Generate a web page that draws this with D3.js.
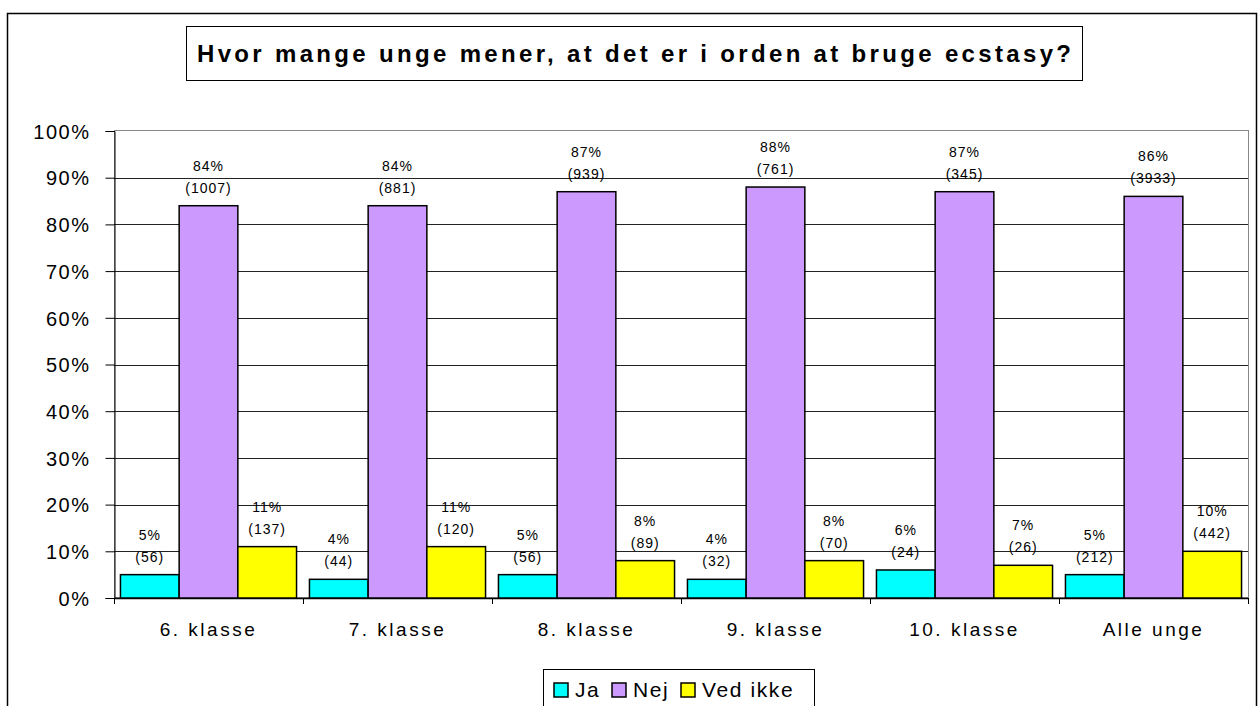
<!DOCTYPE html>
<html>
<head>
<meta charset="utf-8">
<script src="https://cdn.jsdelivr.net/npm/d3@7"></script>
<style>
  body { margin: 0; background: #fff; }
  svg { display: block; font-family: "Liberation Sans", Arial, sans-serif; }
</style>
</head>
<body>
<div id="chart"></div>
<script>
const categories = ["6. klasse", "7. klasse", "8. klasse", "9. klasse", "10. klasse", "Alle unge"];
const seriesNames = ["Ja", "Nej", "Ved ikke"];
const jaPct = [5, 4, 5, 4, 6, 5];
const jaCount = [56, 44, 56, 32, 24, 212];
const nejPct = [84, 84, 87, 88, 87, 86];
const nejCount = [1007, 881, 939, 761, 345, 3933];
const vedIkkePct = [11, 11, 8, 8, 7, 10];
const vedIkkeCount = [137, 120, 89, 70, 26, 442];
const yTicks = [0, 10, 20, 30, 40, 50, 60, 70, 80, 90, 100];
const colors = ["#00ffff", "#cc99ff", "#ffff00"];

const width = 1258, height = 706;
const plotLeft = 114, plotRight = 1248, plotTop = 131, plotBottom = 598;

const svg = d3.select("#chart").append("svg")
  .attr("width", width)
  .attr("height", height);

// outer frame
svg.append("rect")
  .attr("x", 7.5).attr("y", 13.5)
  .attr("width", 1249).attr("height", 760)
  .attr("fill", "none").attr("stroke", "#000").attr("stroke-width", 1.5);

// title box
svg.append("rect")
  .attr("x", 186.5).attr("y", 26.5)
  .attr("width", 896).attr("height", 54)
  .attr("fill", "#fff").attr("stroke", "#000").attr("stroke-width", 1);
svg.append("text")
  .attr("x", 634).attr("y", 62)
  .attr("text-anchor", "middle")
  .attr("font-size", "24px").attr("font-weight", "bold")
  .attr("textLength", 874).attr("lengthAdjust", "spacing")
  .text("Hvor mange unge mener, at det er i orden at bruge ecstasy?");

const y = d3.scaleLinear().domain([0, 100]).range([plotBottom, plotTop]);
const x0 = d3.scaleBand().domain(categories).range([plotLeft, plotRight]);
const x1 = d3.scaleBand().domain(seriesNames).range([0, x0.bandwidth()]).paddingOuter(0.11);

// plot area border
svg.append("rect")
  .attr("x", plotLeft + 0.5).attr("y", plotTop - 0.5)
  .attr("width", plotRight - plotLeft).attr("height", plotBottom - plotTop)
  .attr("fill", "none").attr("stroke", "#888").attr("stroke-width", 1);

// gridlines
svg.append("g").selectAll("line")
  .data(yTicks.filter(d => d > 0 && d < 100))
  .join("line")
  .attr("x1", plotLeft).attr("x2", plotRight)
  .attr("y1", d => Math.round(y(d)) + 0.5).attr("y2", d => Math.round(y(d)) + 0.5)
  .attr("stroke", "#222").attr("stroke-width", 1);

// y axis
const yAxis = svg.append("g")
  .attr("transform", `translate(${plotLeft + 0.5},0)`)
  .call(d3.axisLeft(y).tickValues(yTicks).tickFormat(d => d + "%").tickSize(9).tickPadding(15));
yAxis.select(".domain").attr("stroke", "#000");
yAxis.selectAll(".tick line").attr("stroke", "#000");
yAxis.selectAll(".tick text")
  .attr("font-size", "20px").attr("font-family", "Liberation Sans, Arial, sans-serif")
  .attr("fill", "#000").attr("letter-spacing", "1.5px").attr("dy", "0.36em");

// x axis line and ticks at group boundaries
svg.append("line")
  .attr("x1", plotLeft).attr("x2", plotRight)
  .attr("y1", plotBottom + 0.5).attr("y2", plotBottom + 0.5)
  .attr("stroke", "#000").attr("stroke-width", 1.5);
const bounds = categories.map(c => x0(c)).concat([plotRight]);
svg.append("g").selectAll("line")
  .data(bounds)
  .join("line")
  .attr("x1", d => Math.round(d) + 0.5).attr("x2", d => Math.round(d) + 0.5)
  .attr("y1", plotBottom).attr("y2", plotBottom + 6)
  .attr("stroke", "#000");

svg.append("g").selectAll("text")
  .data(categories)
  .join("text")
  .attr("x", d => x0(d) + x0.bandwidth() / 2)
  .attr("y", 636)
  .attr("text-anchor", "middle")
  .attr("font-size", "19px").attr("letter-spacing", "2.5px")
  .text(d => d);

// bars
const rows = categories.map((c, i) => ({
  cat: c,
  vals: [
    { s: "Ja", p: jaPct[i], n: jaCount[i] },
    { s: "Nej", p: nejPct[i], n: nejCount[i] },
    { s: "Ved ikke", p: vedIkkePct[i], n: vedIkkeCount[i] }
  ]
}));
const color = d3.scaleOrdinal().domain(seriesNames).range(colors);

const groups = svg.append("g").selectAll("g")
  .data(rows)
  .join("g")
  .attr("transform", d => `translate(${x0(d.cat)},0)`);

groups.selectAll("rect")
  .data(d => d.vals)
  .join("rect")
  .attr("x", d => x1(d.s))
  .attr("y", d => y(d.p))
  .attr("width", x1.bandwidth())
  .attr("height", d => plotBottom - y(d.p))
  .attr("fill", d => color(d.s))
  .attr("stroke", "#000").attr("stroke-width", 1.5);

groups.selectAll("text.pct")
  .data(d => d.vals)
  .join("text")
  .attr("class", "pct")
  .attr("x", d => x1(d.s) + x1.bandwidth() / 2)
  .attr("y", d => y(d.p) - 35)
  .attr("text-anchor", "middle")
  .attr("font-size", "14px").attr("letter-spacing", "1px")
  .text(d => d.p + "%");

groups.selectAll("text.cnt")
  .data(d => d.vals)
  .join("text")
  .attr("class", "cnt")
  .attr("x", d => x1(d.s) + x1.bandwidth() / 2)
  .attr("y", d => y(d.p) - 13)
  .attr("text-anchor", "middle")
  .attr("font-size", "14px").attr("letter-spacing", "1px")
  .text(d => "(" + d.n + ")");

// legend
const legend = svg.append("g");
legend.append("rect")
  .attr("x", 543.5).attr("y", 669.5)
  .attr("width", 271).attr("height", 60)
  .attr("fill", "#fff").attr("stroke", "#000").attr("stroke-width", 1);
const legendX = [554, 612, 681];
const items = legend.selectAll("g.item")
  .data(seriesNames)
  .join("g")
  .attr("class", "item")
  .attr("transform", (d, i) => `translate(${legendX[i]},683)`);
items.append("rect")
  .attr("width", 14).attr("height", 14)
  .attr("fill", d => color(d))
  .attr("stroke", "#000").attr("stroke-width", 1.5);
items.append("text")
  .attr("x", 21).attr("y", 13.5)
  .attr("font-size", "21px").attr("letter-spacing", "1.6px")
  .text(d => d);
</script>
</body>
</html>
